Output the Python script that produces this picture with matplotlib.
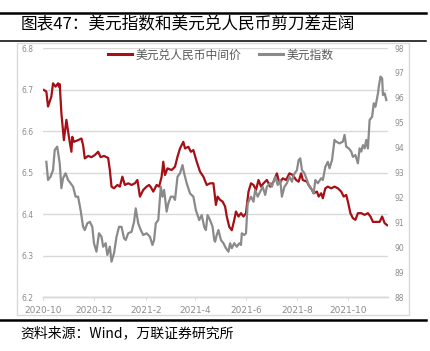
import pandas as pd
import matplotlib
matplotlib.use("Agg")
import matplotlib.pyplot as plt
from matplotlib.lines import Line2D

plt.rcParams['font.family'] = ['Noto Sans CJK SC', 'DejaVu Sans']

# days counted from 2020-10-01
start = pd.Timestamp("2020-10-01")

# USD/CNY central parity (left axis)
cny_days = [1, 4, 6, 10, 12, 15, 18, 19, 20, 22, 25, 28, 31, 34, 35, 37, 42, 46, 48, 50,
            54, 58, 62, 66, 69, 73, 76, 78, 80, 82, 85, 89, 92, 95, 98, 102, 106, 110, 113, 116,
            120, 124, 127, 129, 132, 136, 139, 142, 144, 146, 149, 154, 158, 161, 164, 168, 170, 174, 177, 180,
            184, 188, 192, 196, 200, 204, 207, 209, 212, 215, 218, 220, 223, 226, 229, 231, 234, 237, 240, 243,
            246, 249, 252, 255, 258, 261, 264, 268, 272, 276, 280, 283, 287, 291, 295, 299, 303, 306, 309, 311,
            316, 318, 322, 324, 328, 330, 333, 335, 338, 341, 345, 349, 353, 357, 360, 363, 365, 368, 371, 374,
            377, 381, 385, 389, 392, 395, 399, 403, 406, 409, 412]
cny_vals = [6.699, 6.695, 6.659, 6.683, 6.715, 6.707, 6.715, 6.707, 6.713, 6.643, 6.578, 6.627, 6.586, 6.550, 6.586, 6.574, 6.578, 6.582, 6.566, 6.534,
            6.540, 6.537, 6.542, 6.550, 6.537, 6.540, 6.537, 6.535, 6.506, 6.466, 6.462, 6.470, 6.466, 6.490, 6.470, 6.474, 6.470, 6.474, 6.482, 6.442,
            6.458, 6.466, 6.470, 6.465, 6.454, 6.470, 6.466, 6.490, 6.526, 6.494, 6.510, 6.506, 6.514, 6.538, 6.558, 6.574, 6.558, 6.562, 6.550, 6.554,
            6.526, 6.502, 6.490, 6.470, 6.474, 6.474, 6.422, 6.442, 6.434, 6.430, 6.418, 6.394, 6.369, 6.361, 6.386, 6.406, 6.394, 6.402, 6.394, 6.402,
            6.454, 6.474, 6.470, 6.458, 6.482, 6.466, 6.474, 6.482, 6.466, 6.478, 6.498, 6.474, 6.486, 6.482, 6.498, 6.494, 6.482, 6.478, 6.498, 6.482,
            6.478, 6.470, 6.458, 6.450, 6.454, 6.442, 6.450, 6.438, 6.462, 6.466, 6.462, 6.466, 6.462, 6.454, 6.442, 6.446, 6.430, 6.402, 6.390, 6.386,
            6.402, 6.402, 6.398, 6.402, 6.394, 6.381, 6.381, 6.381, 6.394, 6.378, 6.373]

# US dollar index (right axis)
dxy_days = [4, 6, 9, 12, 14, 17, 20, 22, 24, 27, 30, 33, 36, 39, 42, 45, 48, 50, 53, 56,
            59, 61, 64, 67, 70, 72, 75, 77, 80, 82, 85, 88, 91, 94, 97, 99, 102, 106, 109, 111,
            114, 117, 120, 124, 128, 131, 133, 135, 138, 141, 143, 145, 148, 150, 153, 156, 158, 161, 164, 167,
            169, 172, 176, 180, 183, 187, 190, 193, 195, 197, 200, 203, 205, 206, 208, 210, 213, 216, 219, 222,
            224, 226, 229, 232, 235, 237, 238, 241, 243, 245, 247, 249, 252, 254, 257, 260, 263, 266, 268, 272,
            274, 278, 281, 284, 286, 289, 292, 295, 298, 300, 304, 306, 308, 310, 313, 316, 318, 322, 324, 326,
            329, 333, 335, 338, 341, 343, 346, 349, 351, 355, 359, 361, 363, 366, 369, 371, 374, 377, 379, 381,
            383, 385, 387, 389, 391, 394, 396, 398, 401, 402, 404, 406, 407, 409, 411]
dxy_vals = [93.43, 92.70, 92.83, 93.10, 93.90, 94.04, 93.37, 92.37, 92.77, 92.97, 92.70, 92.57, 92.43, 92.03, 92.03, 91.49, 90.82, 90.69, 90.96, 91.02,
            90.82, 90.16, 89.82, 90.56, 90.42, 90.02, 90.16, 89.69, 90.02, 89.42, 89.76, 90.42, 90.82, 90.82, 90.36, 90.29, 90.56, 90.62, 91.02, 91.56,
            90.96, 90.69, 90.49, 90.56, 90.42, 90.09, 90.29, 90.96, 91.09, 92.43, 92.03, 92.30, 91.43, 91.76, 92.03, 92.03, 91.90, 92.83, 92.97, 93.30,
            92.97, 92.57, 92.16, 92.03, 91.49, 91.09, 91.29, 90.82, 90.69, 91.29, 91.09, 90.82, 90.29, 90.22, 90.49, 90.69, 90.29, 90.16, 89.96, 89.82,
            90.16, 89.96, 90.16, 90.02, 90.16, 90.09, 90.56, 90.49, 90.56, 91.76, 91.90, 92.03, 91.83, 92.30, 92.03, 92.23, 92.43, 92.10, 92.43, 92.57,
            92.43, 92.83, 92.50, 92.70, 92.03, 92.43, 92.57, 92.83, 92.63, 92.90, 93.10, 93.50, 93.57, 93.10, 92.97, 92.70, 92.50, 92.30, 92.16, 92.70,
            92.57, 92.77, 92.70, 93.23, 93.43, 93.17, 93.50, 94.31, 94.24, 94.17, 94.24, 94.51, 94.04, 93.97, 93.84, 93.63, 93.70, 93.37, 93.97, 93.84,
            94.10, 93.97, 94.31, 93.97, 95.11, 95.24, 95.78, 95.64, 96.18, 96.45, 96.85, 96.78, 96.11, 96.18, 95.91]

tick_dates = ["2020-10-01", "2020-12-01", "2021-02-01", "2021-04-01", "2021-06-01", "2021-08-01", "2021-10-01"]
tick_labels = ["2020-10", "2020-12", "2021-2", "2021-4", "2021-6", "2021-8", "2021-10"]
left_ticks = [6.2, 6.3, 6.4, 6.5, 6.6, 6.7, 6.8]
right_ticks = [88, 89, 90, 91, 92, 93, 94, 95, 96, 97, 98]

red = "#a50f15"
gray = "#8a8a8a"
grid_c = "#d9d9d9"
label_c = "#8c8c8c"

cny_dates = start + pd.to_timedelta(cny_days, unit="D")
dxy_dates = start + pd.to_timedelta(dxy_days, unit="D")

fig = plt.figure(figsize=(4.31, 3.51), dpi=100)
ax1 = fig.add_axes([0.0998, 0.1538, 0.8004, 0.7094])
ax2 = ax1.twinx()

ax1.plot(cny_dates, cny_vals, color=red, lw=1.6)
ax2.plot(dxy_dates, dxy_vals, color=gray, lw=1.6)

ax1.set_xlim(start, start + pd.Timedelta(days=413))
ax1.set_ylim(6.2, 6.8)
ax2.set_ylim(88, 98)
ax1.set_yticks(left_ticks)
ax1.set_yticklabels([f"{v:.1f}" for v in left_ticks])
ax2.set_yticks(right_ticks)
ax2.set_yticklabels([str(v) for v in right_ticks])
ax1.set_xticks(pd.to_datetime(tick_dates))
ax1.set_xticklabels(tick_labels)

ax1.yaxis.grid(True, color=grid_c, lw=1.0)
ax1.set_axisbelow(True)
for ax in (ax1, ax2):
    for s in ("left", "right", "top"):
        ax.spines[s].set_visible(False)
    ax.spines["bottom"].set_color(grid_c)
    ax.spines["bottom"].set_linewidth(1.0)

ax1.tick_params(axis="y", length=0, pad=7, labelsize=5.5, labelcolor=label_c, labelfontfamily="DejaVu Sans")
ax2.tick_params(axis="y", length=0, pad=5, labelsize=5.5, labelcolor=label_c, labelfontfamily="DejaVu Sans")
ax1.tick_params(axis="x", length=2.5, width=0.8, color=grid_c, pad=4, labelsize=6.5,
                labelcolor=label_c, labelfontfamily="DejaVu Sans")

# legend
handles = [Line2D([], [], color=red, lw=2.2), Line2D([], [], color=gray, lw=2.2)]
fig.legend(handles, ["美元兑人民币中间价", "美元指数"], loc="center", bbox_to_anchor=(0.512, 0.843),
           ncol=2, frameon=False, fontsize=8.5, handlelength=2.0, handletextpad=0.3,
           columnspacing=1.5, labelcolor="#595959")

# frame around the chart
fig.patches.append(plt.Rectangle((0.0394, 0.1026), 0.9095, 0.775, transform=fig.transFigure,
                                 fill=False, edgecolor=grid_c, lw=1.0))

# header / footer rules
fig.add_artist(Line2D([0, 0.988], [1 - 12.5 / 351] * 2, color="black", lw=1.8, transform=fig.transFigure))
fig.add_artist(Line2D([0, 0.988], [1 - 41 / 351] * 2, color="black", lw=1.1, transform=fig.transFigure))
fig.add_artist(Line2D([0, 0.988], [1 - 319.5 / 351] * 2, color="black", lw=1.8, transform=fig.transFigure))

fig.text(0.048, 1 - 24.5 / 351, "图表47：美元指数和美元兑人民币剪刀差走阔", fontsize=12, va="center", ha="left")
fig.text(0.048, 1 - 333 / 351, "资料来源：Wind，万联证券研究所", fontsize=10, va="center", ha="left", style="italic")

fig.savefig("out.png", dpi=100)
